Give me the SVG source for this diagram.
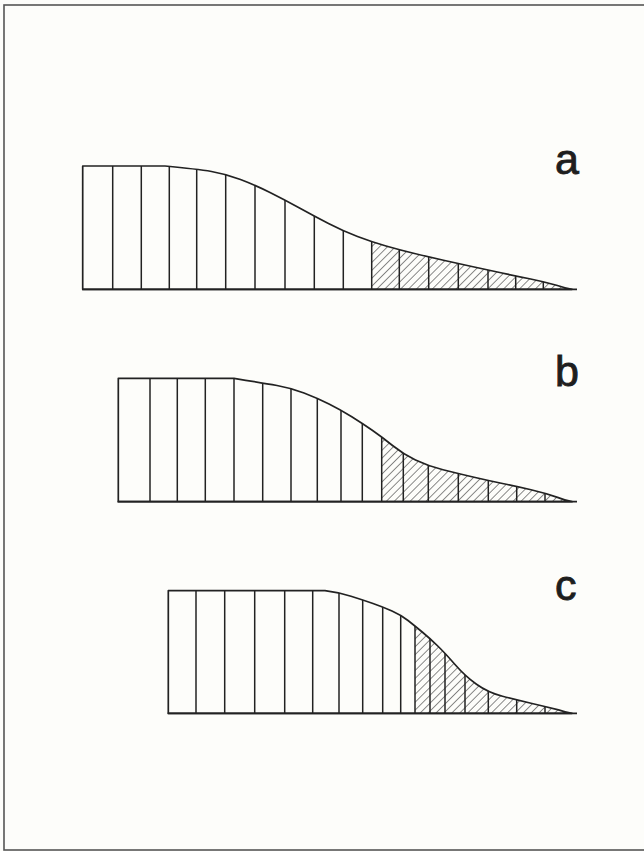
<svg xmlns="http://www.w3.org/2000/svg" width="644" height="851" viewBox="0 0 644 851">
<style>
.outline{fill:none;stroke:#222;stroke-width:1.7;stroke-linejoin:round}
.div{stroke:#222;stroke-width:1.5}
.base{stroke:#222;stroke-width:1.8}
.lbl{font-family:"Liberation Sans",Arial,sans-serif;font-size:43px;fill:#1e1e1e;stroke:#1e1e1e;stroke-width:0.9}
</style>
<defs>
<pattern id="hatch" width="5.6" height="5.6" patternUnits="userSpaceOnUse" patternTransform="rotate(45)">
<line x1="0" y1="0" x2="0" y2="5.6" stroke="#2a2a2a" stroke-width="1.1"/>
</pattern>
<clipPath id="clipA"><path id="shapeA" d="M82.7,289.3 L82.7,166 L165,166 Q197,169 211.5,171.5 Q226,174 240.5,179.5 Q255,185 270,192.5 Q285,200 299.5,208 Q314,216 328.5,223.5 Q343,231 357.5,236.5 Q372,242 386,246 Q400,250 414.5,253.5 Q429,257 443.5,260.25 Q458,263.5 473,266.75 Q488,270 502,273 Q516,276 529.5,278.75 Q543,281.5 556.5,285.25 Q563,287.5 572,289.3 Z"/></clipPath>
<clipPath id="clipB"><path id="shapeB" d="M118.3,501.7 L118.3,378.3 L234,378.3 Q263,383 277,385.5 Q291,388 304,393 Q317,398 329,404 Q341,410 351.75,416.75 Q362.5,423.5 372.25,430.25 Q382,437 392.5,445.5 Q403,454 415.5,460 Q428,466 443,469.75 Q458,473.5 473,477 Q488,480.5 502.5,483.5 Q517,486.5 531,489.75 Q545,493 557.5,497.35 Q564,500 572,501.7 Z"/></clipPath>
<clipPath id="clipC"><path id="shapeC" d="M168.3,713.3 L168.3,590.7 L325,590.7 Q339,592.5 351,596.25 Q363,600 373,603.5 Q383,607 392,611 Q401,615 408,620.5 Q415,626 422.5,632.25 Q430,638.5 437.5,645.75 Q445,653 455,664.5 Q465,676 476.5,684.25 Q488,692.5 502.5,696.25 Q517,700 531,703.25 Q545,706.5 558.5,709.9 Q565,712 572,713.3 Z"/></clipPath>
</defs>
<rect x="0" y="0" width="644" height="851" fill="#fdfdfa"/>
<rect x="4" y="5" width="680" height="845" fill="none" stroke="#555" stroke-width="1.6"/>

<g id="panel-a">
<g clip-path="url(#clipA)">
<rect x="371.7" y="150" width="210" height="145" fill="url(#hatch)"/>
<g class="div">
<line x1="112.7" y1="150" x2="112.7" y2="290"/><line x1="141.3" y1="150" x2="141.3" y2="290"/><line x1="169.3" y1="150" x2="169.3" y2="290"/><line x1="196.7" y1="150" x2="196.7" y2="290"/><line x1="225.7" y1="150" x2="225.7" y2="290"/><line x1="255" y1="150" x2="255" y2="290"/><line x1="285" y1="150" x2="285" y2="290"/><line x1="314.3" y1="150" x2="314.3" y2="290"/><line x1="343.3" y1="150" x2="343.3" y2="290"/><line x1="371.7" y1="150" x2="371.7" y2="290"/><line x1="399.3" y1="150" x2="399.3" y2="290"/><line x1="428.7" y1="150" x2="428.7" y2="290"/><line x1="458.3" y1="150" x2="458.3" y2="290"/><line x1="488" y1="150" x2="488" y2="290"/><line x1="515.7" y1="150" x2="515.7" y2="290"/><line x1="543.3" y1="150" x2="543.3" y2="290"/>
</g>
</g>
<use href="#shapeA" class="outline"/>
<line class="base" x1="82" y1="289.3" x2="577" y2="289.3"/>
<text class="lbl" x="555" y="174">a</text>
</g>

<g id="panel-b">
<g clip-path="url(#clipB)">
<rect x="381.7" y="370" width="200" height="140" fill="url(#hatch)"/>
<g class="div">
<line x1="150" y1="370" x2="150" y2="502"/><line x1="177.3" y1="370" x2="177.3" y2="502"/><line x1="205.3" y1="370" x2="205.3" y2="502"/><line x1="234" y1="370" x2="234" y2="502"/><line x1="262.7" y1="370" x2="262.7" y2="502"/><line x1="291" y1="370" x2="291" y2="502"/><line x1="317.3" y1="370" x2="317.3" y2="502"/><line x1="341" y1="370" x2="341" y2="502"/><line x1="362.3" y1="370" x2="362.3" y2="502"/><line x1="381.7" y1="370" x2="381.7" y2="502"/><line x1="403.3" y1="370" x2="403.3" y2="502"/><line x1="428.3" y1="370" x2="428.3" y2="502"/><line x1="458.3" y1="370" x2="458.3" y2="502"/><line x1="488.3" y1="370" x2="488.3" y2="502"/><line x1="516.7" y1="370" x2="516.7" y2="502"/><line x1="545" y1="370" x2="545" y2="502"/>
</g>
</g>
<use href="#shapeB" class="outline"/>
<line class="base" x1="117.6" y1="501.7" x2="577" y2="501.7"/>
<text class="lbl" x="555" y="386">b</text>
</g>

<g id="panel-c">
<g clip-path="url(#clipC)">
<rect x="415" y="580" width="170" height="140" fill="url(#hatch)"/>
<g class="div">
<line x1="196" y1="580" x2="196" y2="714"/><line x1="224.7" y1="580" x2="224.7" y2="714"/><line x1="254.7" y1="580" x2="254.7" y2="714"/><line x1="284.7" y1="580" x2="284.7" y2="714"/><line x1="312.7" y1="580" x2="312.7" y2="714"/><line x1="339" y1="580" x2="339" y2="714"/><line x1="362.7" y1="580" x2="362.7" y2="714"/><line x1="382.7" y1="580" x2="382.7" y2="714"/><line x1="400.7" y1="580" x2="400.7" y2="714"/><line x1="415" y1="580" x2="415" y2="714"/><line x1="430" y1="580" x2="430" y2="714"/><line x1="445" y1="580" x2="445" y2="714"/><line x1="465" y1="580" x2="465" y2="714"/><line x1="488.3" y1="580" x2="488.3" y2="714"/><line x1="516.7" y1="580" x2="516.7" y2="714"/><line x1="545" y1="580" x2="545" y2="714"/>
</g>
</g>
<use href="#shapeC" class="outline"/>
<line class="base" x1="167.6" y1="713.3" x2="577" y2="713.3"/>
<text class="lbl" x="555" y="600">c</text>
</g>
</svg>
